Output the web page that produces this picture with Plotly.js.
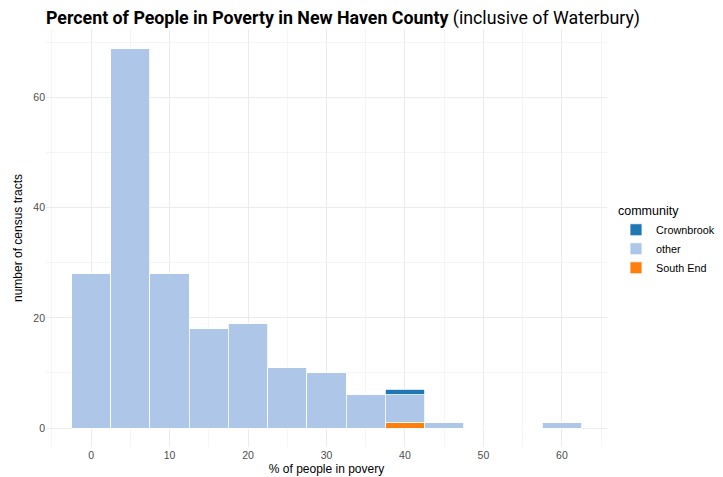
<!DOCTYPE html>
<html>
<head>
<meta charset="utf-8">
<script src="https://cdn.plot.ly/plotly-3.0.1.min.js"></script>
<style>html,body{margin:0;padding:0;background:#fff;}#chart{width:723px;height:477px;}</style>
</head>
<body>
<div id="chart"></div>
<script>
// bin centers (% of people in poverty), bin width 5
const binCenters = [0, 5, 10, 15, 20, 25, 30, 35, 40, 45, 50, 55, 60];
const otherCounts = [28, 69, 28, 18, 19, 11, 10, 6, 5, 1, 0, 0, 1];
const southEndCounts = [0, 0, 0, 0, 0, 0, 0, 0, 1, 0, 0, 0, 0];
const crownbrookCounts = [0, 0, 0, 0, 0, 0, 0, 0, 1, 0, 0, 0, 0];
const binWidth = 5;

const lineStyle = {color: '#ffffff', width: 0.8};
const traces = [
  {type: 'bar', name: 'South End', x: binCenters, y: southEndCounts, width: binWidth,
   marker: {color: '#ff7f0e', line: lineStyle}, legendrank: 3, hoverinfo: 'x+y+name'},
  {type: 'bar', name: 'other', x: binCenters, y: otherCounts, width: binWidth,
   marker: {color: '#aec7e8', line: lineStyle}, legendrank: 2, hoverinfo: 'x+y+name'},
  {type: 'bar', name: 'Crownbrook', x: binCenters, y: crownbrookCounts, width: binWidth,
   marker: {color: '#1f77b4', line: lineStyle}, legendrank: 1, hoverinfo: 'x+y+name'}
];

const layout = {
  width: 723, height: 477,
  margin: {l: 46, r: 116, t: 29, b: 30, autoexpand: false},
  paper_bgcolor: '#ffffff', plot_bgcolor: '#ffffff',
  barmode: 'stack', bargap: 0,
  font: {family: 'Liberation Sans, Arial, sans-serif', color: '#000000'},
  title: {
    text: '<b>Percent of People in Poverty in New Haven County</b> (inclusive of Waterbury)',
    x: 46/723, xref: 'container', xanchor: 'left',
    y: 1 - 18/477, yref: 'container', yanchor: 'middle',
    font: {family: 'Roboto, sans-serif', size: 17.8, color: '#000000'}
  },
  xaxis: {
    range: [-5.75, 65.75], tickmode: 'linear', tick0: 0, dtick: 10,
    showgrid: true, gridcolor: '#ebebeb', gridwidth: 1,
    minor: {tick0: 0, dtick: 5, showgrid: true, gridcolor: '#ebebeb', gridwidth: 0.5},
    zeroline: false, showline: false, ticks: '',
    tickfont: {size: 10.5, color: '#4d4d4d'},
    title: {text: '% of people in povery', font: {size: 12, color: '#000000'}, standoff: 5}
  },
  yaxis: {
    range: [-3.45, 72.45], tickmode: 'linear', tick0: 0, dtick: 20,
    showgrid: true, gridcolor: '#ebebeb', gridwidth: 1,
    minor: {tick0: 0, dtick: 10, showgrid: true, gridcolor: '#ebebeb', gridwidth: 0.5},
    zeroline: false, showline: false, ticks: '',
    tickfont: {size: 10.5, color: '#4d4d4d'},
    title: {text: 'number of census tracts', font: {size: 12, color: '#000000'}, standoff: 8}
  },
  showlegend: true,
  legend: {
    xref: 'container', x: 616/723, xanchor: 'left',
    yref: 'container', y: 1 - 199/477, yanchor: 'top',
    title: {text: 'community', font: {size: 12.5, color: '#000000'}},
    font: {size: 10.8, color: '#000000'},
    traceorder: 'normal', bgcolor: 'rgba(0,0,0,0)', itemwidth: 30, tracegroupgap: 0
  }
};

Plotly.newPlot('chart', traces, layout, {displayModeBar: false, staticPlot: true});
</script>
</body>
</html>
